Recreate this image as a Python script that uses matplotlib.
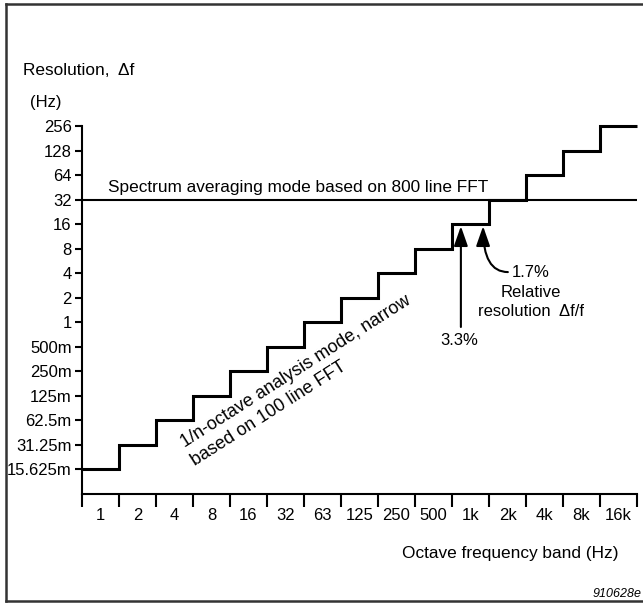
import matplotlib
matplotlib.use("Agg")
import matplotlib.pyplot as plt
import numpy as np
from matplotlib.lines import Line2D
from matplotlib.ticker import NullLocator

plt.rcParams.update({"font.family": ["Liberation Sans", "DejaVu Sans"], "font.size": 12})

# octave bands and the resolution of the 1/n-octave (100 line FFT) mode
bands = ["1", "2", "4", "8", "16", "32", "63", "125", "250", "500", "1k", "2k", "4k", "8k", "16k"]
resolution = [0.015625, 0.03125, 0.0625, 0.125, 0.25, 0.5, 1, 2, 4, 8, 16, 32, 64, 128, 256]
ytick_vals = [0.015625, 0.03125, 0.0625, 0.125, 0.25, 0.5, 1, 2, 4, 8, 16, 32, 64, 128, 256]
ytick_labels = ["15.625m", "31.25m", "62.5m", "125m", "250m", "500m",
                "1", "2", "4", "8", "16", "32", "64", "128", "256"]
fft800_res = 32  # spectrum averaging mode, 800 line FFT

W, H = 643, 603
fig = plt.figure(figsize=(W / 100, H / 100), dpi=100)
fx = lambda px: px / W
fy = lambda py: 1 - py / H

ax = fig.add_axes([fx(82), fy(494), fx(637) - fx(82), fy(126) - fy(494)])
ax.set_yscale("log", base=2)
ax.set_ylim(resolution[0] / 2, resolution[-1])
ax.set_xlim(-0.5, len(bands) - 0.5)

edges = np.arange(len(bands) + 1) - 0.5
ax.stairs(resolution, edges, baseline=None, color="black", lw=2.2, clip_on=False)
ax.axhline(fft800_res, color="black", lw=1.5)

for s in ("top", "right"):
    ax.spines[s].set_visible(False)
for s in ("left", "bottom"):
    ax.spines[s].set_linewidth(1.5)

ax.set_yticks(ytick_vals, ytick_labels)
ax.yaxis.set_minor_locator(NullLocator())
ax.tick_params(axis="y", length=5, width=1.5, pad=2.5, labelsize=12)

ax.set_xticks(range(len(bands)), bands)
ax.set_xticks(edges, minor=True)
ax.tick_params(axis="x", which="major", length=0, pad=10, labelsize=12)
ax.tick_params(axis="x", which="minor", length=9, width=1.5)

# texts
fig.text(fx(23), fy(75), "Resolution,  \u0394f", ha="left", va="baseline", fontsize=12.4)
fig.text(fx(30), fy(107), "(Hz)", ha="left", va="baseline")
fig.text(fx(108), fy(192), "Spectrum averaging mode based on 800 line FFT",
         ha="left", va="baseline", fontsize=12.4)
fig.text(fx(402), fy(558), "Octave frequency band (Hz)", ha="left", va="baseline", fontsize=12.4)
fig.text(fx(642), fy(597), "910628e", ha="right", va="baseline", fontsize=9, style="italic")

fig.text(fx(185), fy(448), "1/n-octave analysis mode, narrow", rotation=32.5,
         rotation_mode="anchor", ha="left", va="baseline", fontsize=13)
fig.text(fx(195), fy(466), "based on 100 line FFT", rotation=32.5,
         rotation_mode="anchor", ha="left", va="baseline", fontsize=13)

# arrows for relative resolution
head = "-|>,head_length=1.0,head_width=0.35"
ax.annotate("", xy=(9.74, 15.1), xytext=(9.74, 0.875),
            arrowprops=dict(arrowstyle=head, color="black", lw=1.5, shrinkA=0, shrinkB=0))
ax.text(9.7, 0.6, "3.3%", ha="center", va="center")
ax.annotate("", xy=(10.34, 15.1), xytext=(11.01, 4.13),
            arrowprops=dict(arrowstyle=head, color="black", lw=1.5, shrinkA=0, shrinkB=0,
                            connectionstyle="angle3,angleA=0,angleB=90"))
ax.text(11.64, 2.35, "1.7%\nRelative\nresolution  \u0394f/f", ha="center", va="center",
        linespacing=1.4)

# outer frame
for xs, ys in (([6, 6], [4, 601]), ([6, 643], [4, 4]), ([6, 643], [601, 601])):
    fig.add_artist(Line2D([fx(x) for x in xs], [fy(y) for y in ys], color="#333333", lw=1.8))

fig.savefig("out.png", dpi=100)
